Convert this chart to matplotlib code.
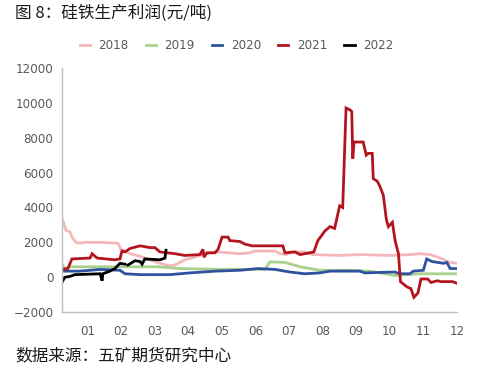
import numpy as np
import matplotlib
matplotlib.use("Agg")
import matplotlib.pyplot as plt

plt.rcParams['font.family'] = ['DejaVu Sans']

# x = month position (tick k sits at label "0k"), y = profit yuan/ton
x_2018 = [0.24, 0.30, 0.36, 0.48, 0.54, 0.66, 0.78, 0.93, 1.38, 1.91, 2.00, 2.12, 2.27, 2.57, 2.86,
          3.16, 3.46, 3.61, 3.90, 4.20, 4.50, 4.80, 5.24, 5.54, 5.84, 5.99, 6.58, 6.73, 6.93, 7.08,
          7.47, 7.71, 8.52, 9.11, 10.0, 10.6, 10.9, 11.2, 11.5, 11.8, 12.0]
y_2018 = [3400, 3100, 2700, 2600, 2300, 2000, 1950, 2000, 2000, 1950, 1600, 1500, 1350, 1200, 1000,
          800, 650, 700, 1000, 1150, 1350, 1450, 1400, 1350, 1400, 1500, 1500, 1350, 1300, 1450,
          1450, 1300, 1250, 1300, 1250, 1300, 1350, 1300, 1100, 850, 800]

x_2019 = [0.24, 0.33, 0.48, 3.10, 3.76, 5.04, 6.29, 6.43, 6.88, 7.33, 7.92, 8.81, 9.41, 10.15, 10.9, 12.0]
y_2019 = [750, 500, 600, 600, 500, 450, 450, 880, 850, 600, 400, 400, 350, 100, 200, 200]

x_2020 = [0.24, 0.78, 1.38, 1.97, 2.12, 2.57, 2.86, 3.46, 4.05, 4.80, 5.54, 6.08, 6.58, 7.03, 7.47,
          7.92, 8.22, 9.11, 9.26, 10.15, 10.3, 10.6, 10.7, 11.0, 11.1, 11.26, 11.6, 11.7, 11.8, 12.0]
y_2020 = [350, 350, 450, 400, 200, 150, 150, 150, 250, 350, 400, 500, 450, 300, 200,
          250, 350, 350, 250, 300, 200, 200, 350, 400, 1050, 900, 800, 850, 500, 500]

x_2021 = [0.24, 0.42, 0.54, 1.08, 1.14, 1.29, 1.82, 1.97, 2.03, 2.12, 2.27, 2.57, 2.86, 3.01, 3.16,
          3.61, 3.90, 4.35, 4.44, 4.47, 4.56, 4.80, 4.89, 5.01, 5.19, 5.24, 5.54, 5.69, 5.90, 6.82,
          6.88, 7.18, 7.33, 7.62, 7.74, 7.86, 8.07, 8.22, 8.36, 8.51, 8.60, 8.70, 8.81, 8.87, 8.90,
          8.94, 9.21, 9.30, 9.36, 9.48, 9.51, 9.63, 9.71, 9.81, 9.90, 9.96, 10.08, 10.16, 10.26, 10.32,
          10.51, 10.63, 10.72, 10.84, 10.93, 11.13, 11.23, 11.42, 11.51, 11.87, 12.0]
y_2021 = [450, 500, 1050, 1100, 1350, 1100, 1000, 1050, 1500, 1450, 1650, 1800, 1700, 1700, 1450,
          1350, 1250, 1300, 1600, 1150, 1400, 1400, 1600, 2300, 2300, 2100, 2050, 1900, 1800, 1800,
          1400, 1450, 1300, 1400, 1450, 2100, 2650, 2900, 2800, 4100, 4000, 9700, 9600, 9500, 6800,
          7750, 7750, 7000, 7100, 7100, 5650, 5500, 5200, 4700, 3300, 2900, 3150, 2100, 1350, -250,
          -550, -650, -1150, -900, -100, -100, -300, -200, -250, -250, -350]

x_2022 = [0.24, 0.33, 0.48, 0.63, 1.38, 1.44, 1.46, 1.67, 1.82, 1.97, 2.12, 2.16, 2.21, 2.42, 2.57,
          2.63, 2.71, 3.16, 3.31, 3.34]
y_2022 = [-300, 0, 50, 150, 200, -200, 200, 350, 500, 800, 750, np.nan, 700, 950, 900,
          750, 1050, 1000, 1100, 1550]

series = [
    ("2018", x_2018, y_2018, "#f4b8ba"),
    ("2019", x_2019, y_2019, "#a9d18e"),
    ("2020", x_2020, y_2020, "#2f52a0"),
    ("2021", x_2021, y_2021, "#b4141e"),
    ("2022", x_2022, y_2022, "#000000"),
]
month_labels = ["01", "02", "03", "04", "05", "06", "07", "08", "09", "10", "11", "12"]

fig = plt.figure(figsize=(4.83, 3.77), dpi=100)
ax = fig.add_axes([0.128, 0.172, 0.818, 0.648])

for name, xs, ys, c in series:
    ax.plot(xs, ys, color=c, lw=2.0, label=name, solid_joinstyle="miter")

ax.set_xlim(0.24, 12.0)
ax.set_ylim(-2000, 12000)
ax.set_yticks(np.arange(-2000, 12001, 2000))
ax.set_xticks(np.arange(1, 13))
ax.set_xticklabels(month_labels)
ax.tick_params(axis="both", length=0, labelsize=8.6, colors="#595959", pad=6)
ax.tick_params(axis="x", pad=9)
for s in ["top", "right"]:
    ax.spines[s].set_visible(False)
for s in ["left", "bottom"]:
    ax.spines[s].set_color("#bfbfbf")
    ax.spines[s].set_linewidth(1.0)

leg = fig.legend(loc="center", bbox_to_anchor=(0.49, 0.878), ncol=5, frameon=False,
                 fontsize=8.6, handlelength=0.85, handletextpad=0.7, columnspacing=1.45)
for t in leg.get_texts():
    t.set_color("#595959")

cjk = ['Noto Sans CJK SC', 'DejaVu Sans']
fig.text(0.031, 0.965, "图 8：硅铁生产利润(元/吨)", family=cjk, fontsize=12,
         va="center", ha="left", color="#1a1a1a")
fig.text(0.031, 0.055, "数据来源：五矿期货研究中心", family=cjk, fontsize=12,
         va="center", ha="left", color="#1a1a1a")

fig.savefig("out.png", dpi=100)
